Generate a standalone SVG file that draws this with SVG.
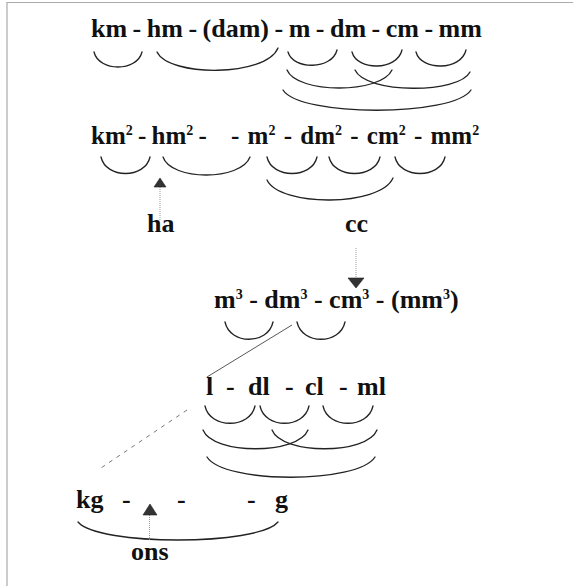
<svg xmlns="http://www.w3.org/2000/svg" width="573" height="586" viewBox="0 0 573 586">
<style>
text{font-family:"Liberation Serif","Times New Roman",serif;font-weight:bold;font-size:26px;fill:#111}
.r2{font-size:25px}
.s{font-size:14px}
.arc{fill:none;stroke:#222;stroke-width:1.3;stroke-linecap:round}
.dot{fill:none;stroke:#999;stroke-width:1;stroke-dasharray:1 1}
.dash{fill:none;stroke:#777;stroke-width:1;stroke-dasharray:4 5}
.solid{fill:none;stroke:#444;stroke-width:0.9}
.head{fill:#333;stroke:#222;stroke-width:0.6}
.frame{fill:none;stroke:#aaa;stroke-width:1.2}
</style>
<rect width="573" height="586" fill="#fff"/>
<path class="frame" d="M7,586 V2.5 H573"/>

<g id="row-length">
<text x="91" y="37" word-spacing="-1">km - hm - (dam) - m - dm - cm - mm</text>
</g>
<g id="row-area">
<text class="r2" x="91" y="144" word-spacing="-1">km<tspan class="s" dy="-9">2</tspan><tspan dy="9"> - hm</tspan><tspan class="s" dy="-9">2</tspan><tspan dy="9"> -</tspan></text>
<text class="r2" x="231" y="144" word-spacing="2">- m<tspan class="s" dy="-9">2</tspan><tspan dy="9"> - dm</tspan><tspan class="s" dy="-9">2</tspan><tspan dy="9"> - cm</tspan><tspan class="s" dy="-9">2</tspan><tspan dy="9"> - mm</tspan><tspan class="s" dy="-9">2</tspan></text>
</g>
<g id="label-ha"><text x="147" y="232">ha</text></g>
<g id="label-cc"><text x="345" y="232">cc</text></g>
<g id="row-volume">
<text x="214" y="308">m<tspan class="s" dy="-9">3</tspan><tspan dy="9"> - dm</tspan><tspan class="s" dy="-9">3</tspan><tspan dy="9"> - cm</tspan><tspan class="s" dy="-9">3</tspan><tspan dy="9"> - (mm</tspan><tspan class="s" dy="-9">3</tspan><tspan dy="9">)</tspan></text>
</g>
<g id="row-litre">
<text y="395"><tspan x="206">l</tspan><tspan x="226">-</tspan><tspan x="248">dl</tspan><tspan x="285">-</tspan><tspan x="305">cl</tspan><tspan x="339">-</tspan><tspan x="357">ml</tspan></text>
</g>
<g id="row-mass">
<text y="508"><tspan x="76">kg</tspan><tspan x="122">-</tspan><tspan x="177">-</tspan><tspan x="247">-</tspan><tspan x="275">g</tspan></text>
</g>
<g id="label-ons"><text x="131" y="560">ons</text></g>

<g id="connectors">
<path class="arc" d="M94,52 C99,72 137,72 142,52"/>
<path class="arc" d="M157,52 C169,77 266,77 278,48"/>
<path class="arc" d="M288,52 C293,70 332,70 337,50"/>
<path class="arc" d="M352,52 C357,71 397,71 402,50"/>
<path class="arc" d="M416,52 C421,71 461,71 466,50"/>
<path class="arc" d="M287,70 C297,94 381,94 392,70"/>
<path class="arc" d="M355,70 C366,94 459,94 470,72"/>
<path class="arc" d="M283,90 C300,117 453,117 471,90"/>

<path class="arc" d="M101,157 C106,179 145,179 150,157"/>
<path class="arc" d="M163,157 C171,181 241,181 250,157"/>
<path class="arc" d="M267,157 C272,179 312,179 317,157"/>
<path class="arc" d="M329,157 C334,179 375,179 380,157"/>
<path class="arc" d="M395,157 C400,179 440,179 445,157"/>
<path class="arc" d="M267,180 C280,207 380,207 393,178"/>

<path class="arc" d="M225,322 C230,345 268,345 273,322"/>
<path class="arc" d="M297,322 C302,345 340,345 345,322"/>

<path class="arc" d="M205,406 C210,429 250,429 255,406"/>
<path class="arc" d="M260,406 C265,429 304,429 309,406"/>
<path class="arc" d="M323,406 C328,429 368,429 373,406"/>
<path class="arc" d="M203,430 C213,455 298,455 308,430"/>
<path class="arc" d="M272,430 C282,455 367,455 377,430"/>
<path class="arc" d="M207,457 C224,484 358,484 375,457"/>

<path class="arc" d="M78,522 C98,546 258,546 278,522"/>

<path class="dot" d="M160,187 V221"/>
<polygon class="head" points="160,178 154,187 166,187"/>
<path class="dot" d="M356,248 V279"/>
<polygon class="head" points="348,278 364,278 356,288"/>
<path class="dot" d="M149.5,515 V541"/>
<polygon class="head" points="150,504 143,515 157,515"/>

<path class="solid" d="M292,325 L207,377"/>
<path class="dash" d="M187,410 L98,470"/>
</g>
</svg>
